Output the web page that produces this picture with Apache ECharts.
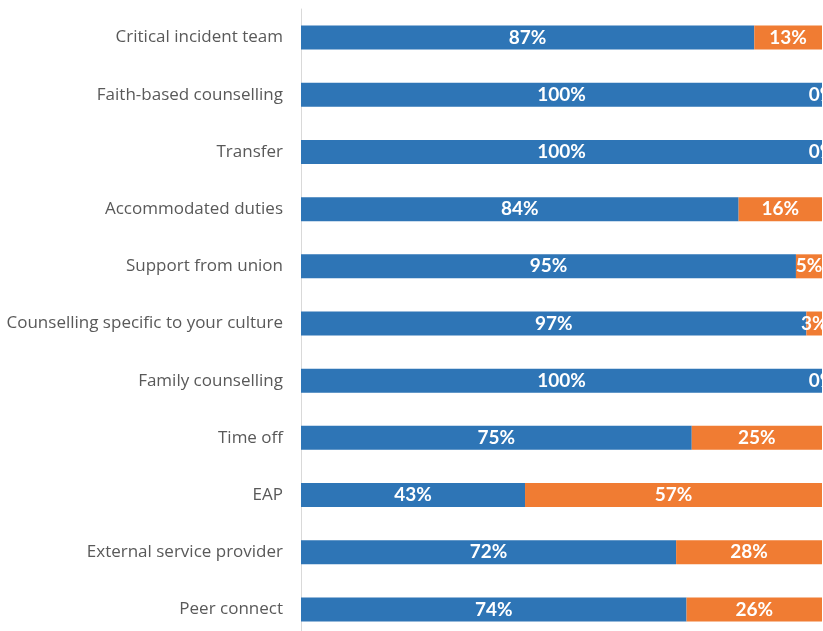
<!DOCTYPE html>
<html>
<head>
<meta charset="utf-8">
<script src="https://cdn.jsdelivr.net/npm/echarts@6/dist/echarts.min.js"></script>
<style>
  html, body { margin: 0; padding: 0; background: #fff; overflow: hidden; }
  /* the plot runs slightly past the bottom edge of the window */
  #chart { width: 823px; height: 640px; }
</style>
</head>
<body>
<div id="chart"></div>
<script>
// Support types, listed top to bottom
const categories = [
  'Critical incident team',
  'Faith-based counselling',
  'Transfer',
  'Accommodated duties',
  'Support from union',
  'Counselling specific to your culture',
  'Family counselling',
  'Time off',
  'EAP',
  'External service provider',
  'Peer connect'
];
// Share of responses (%) in each segment
const blueValues = [87, 100, 100, 84, 95, 97, 100, 75, 43, 72, 74];
const orangeValues = [13, 0, 0, 16, 5, 3, 0, 25, 57, 28, 26];

const labelFont = {
  show: true,
  position: 'inside',
  color: '#ffffff',
  fontFamily: 'Lato',
  fontWeight: 'bold',
  fontSize: 19,
  formatter: p => p.value + '%'
};

const chart = echarts.init(document.getElementById('chart'), null, { renderer: 'canvas' });
chart.setOption({
  animation: false,
  backgroundColor: '#ffffff',
  grid: { left: 301, right: 1, top: 9, height: 629, containLabel: false },
  xAxis: {
    type: 'value',
    min: 0,
    max: 100,
    show: false
  },
  yAxis: {
    type: 'category',
    data: categories,
    inverse: true,
    axisLine: { show: true, lineStyle: { color: '#d9d9d9', width: 1 } },
    axisTick: { show: false },
    axisLabel: {
      color: '#595959',
      fontFamily: 'Open Sans',
      fontSize: 17,
      margin: 18
    }
  },
  series: [
    {
      type: 'bar',
      stack: 'total',
      data: blueValues,
      barWidth: 24,
      itemStyle: { color: '#2E75B6' },
      label: labelFont
    },
    {
      type: 'bar',
      stack: 'total',
      data: orangeValues,
      barWidth: 24,
      itemStyle: { color: '#F07C33' },
      label: labelFont
    }
  ]
});
</script>
</body>
</html>
